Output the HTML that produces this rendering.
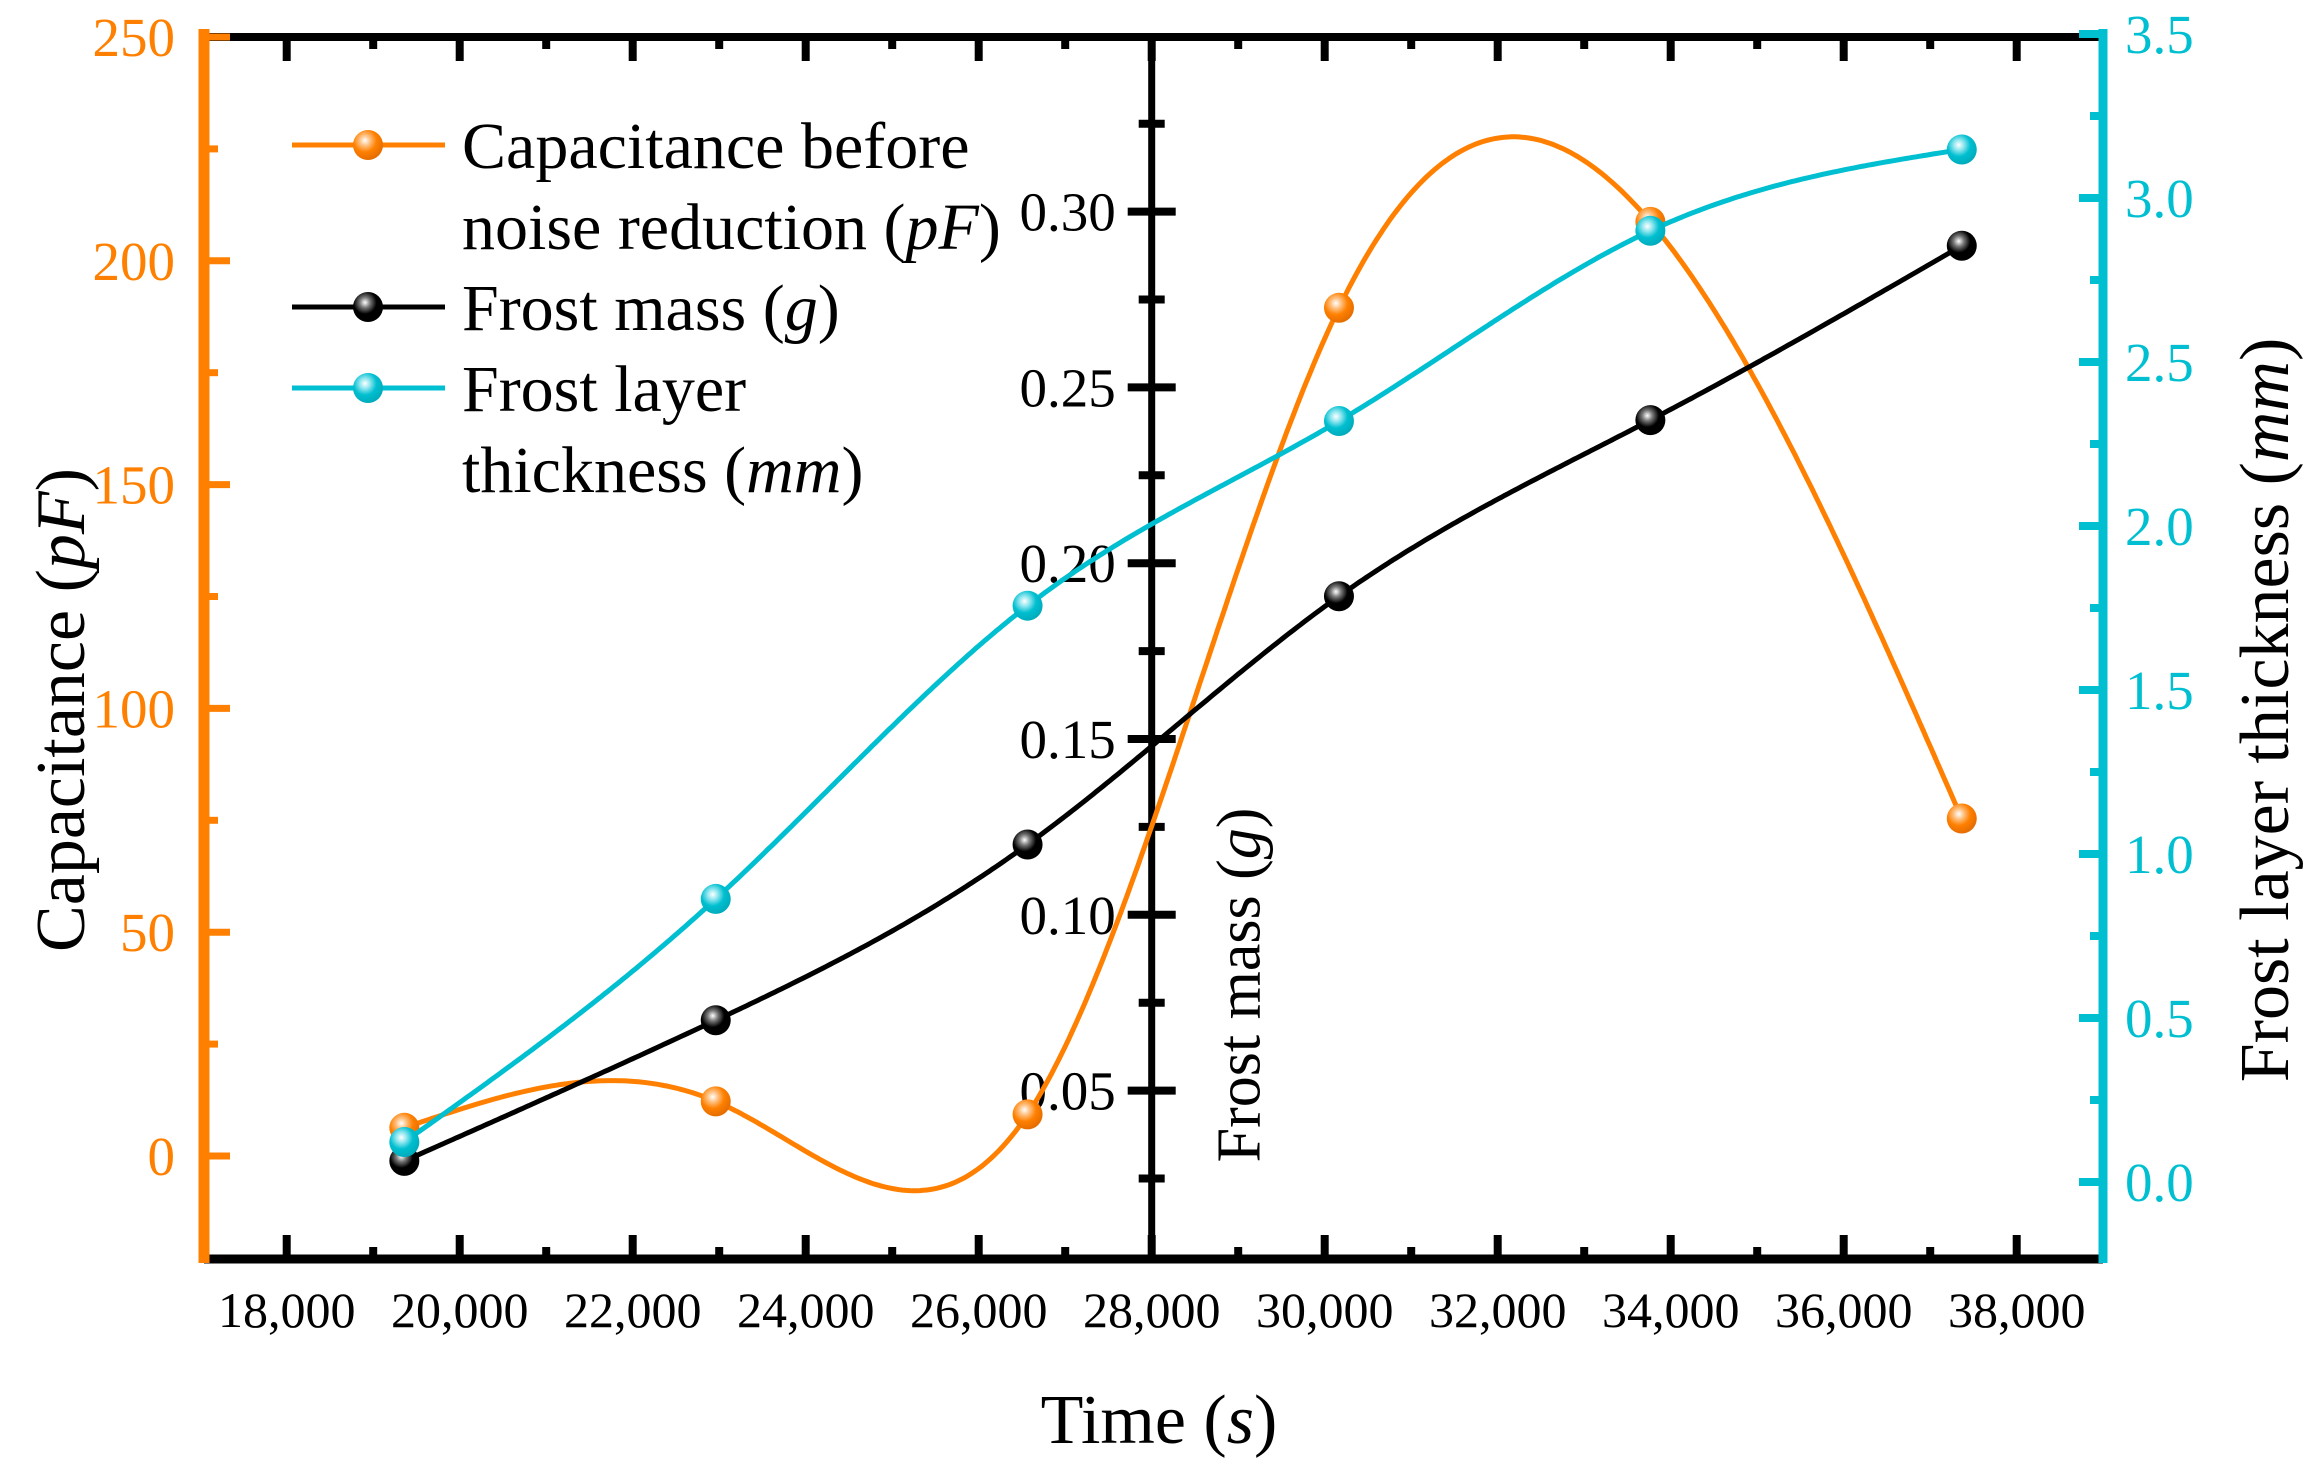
<!DOCTYPE html>
<html><head><meta charset="utf-8"><style>
html,body{margin:0;padding:0;background:#fff;}
svg{display:block;font-family:"Liberation Serif",serif;}
</style></head><body>
<svg id="chart" width="2306" height="1458" viewBox="0 0 2306 1458" xmlns="http://www.w3.org/2000/svg">
<defs>
<radialGradient id="gO" cx="0.4" cy="0.35" r="0.7"><stop offset="0" stop-color="#fff"/><stop offset="0.25" stop-color="#ffc080"/><stop offset="0.55" stop-color="#ff8000"/><stop offset="1" stop-color="#e06a00"/></radialGradient>
<radialGradient id="gK" cx="0.4" cy="0.35" r="0.7"><stop offset="0" stop-color="#fff"/><stop offset="0.25" stop-color="#777"/><stop offset="0.55" stop-color="#000"/><stop offset="1" stop-color="#000"/></radialGradient>
<radialGradient id="gC" cx="0.4" cy="0.35" r="0.7"><stop offset="0" stop-color="#fff"/><stop offset="0.25" stop-color="#8ee6ef"/><stop offset="0.55" stop-color="#00bfd0"/><stop offset="1" stop-color="#00a8b8"/></radialGradient>
</defs>
</svg>
<script>
const times = [19360, 22960, 26565, 30165, 33765, 37365];
const capacitance = [6.3, 12.2, 9.3, 189.5, 208.7, 75.4];
const frostMass = [0.030, 0.070, 0.120, 0.1906, 0.2407, 0.2903];
const thickness = [0.122, 0.863, 1.757, 2.32, 2.90, 3.148];
const xTicks = [18000,20000,22000,24000,26000,28000,30000,32000,34000,36000,38000];
const xTickLabels = ["18,000","20,000","22,000","24,000","26,000","28,000","30,000","32,000","34,000","36,000","38,000"];
const capTicks = [0,50,100,150,200,250];
const massTicks = [0.05,0.10,0.15,0.20,0.25,0.30];
const thickTicks = [0,0.5,1,1.5,2,2.5,3,3.5];

const NS="http://www.w3.org/2000/svg";
const svg=document.getElementById('chart');
const L=204,R=2103,T=37,B=1259;
const X=v=>286.7+(v-18000)/2000*173;
const MID=X(28000);
const YC=v=>1156-v/50*223.8;
const YM=v=>211.6+(0.30-v)/0.05*175.8;
const YT=v=>1182-v/0.5*164;
const ORANGE="#ff8000", CYAN="#00bfd0";
function el(tag,attrs,parent){const e=document.createElementNS(NS,tag);for(const k in attrs)e.setAttribute(k,attrs[k]);(parent||svg).appendChild(e);return e;}
function line(x1,y1,x2,y2,c,w,g){return el('line',{x1,y1,x2,y2,stroke:c,'stroke-width':w},g);}
function text(x,y,s,attrs,g){const t=el('text',Object.assign({x,y},attrs),g);t.textContent=s;return t;}

function spline(xs,ys){const n=xs.length;const h=[],a=[],l=[1],mu=[0],z=[0],c=new Array(n).fill(0),b=[],d=[];
for(let i=0;i<n-1;i++)h[i]=xs[i+1]-xs[i];
for(let i=1;i<n-1;i++)a[i]=3/h[i]*(ys[i+1]-ys[i])-3/h[i-1]*(ys[i]-ys[i-1]);
for(let i=1;i<n-1;i++){l[i]=2*(xs[i+1]-xs[i-1])-h[i-1]*mu[i-1];mu[i]=h[i]/l[i];z[i]=(a[i]-h[i-1]*z[i-1])/l[i];}
l[n-1]=1;z[n-1]=0;
for(let j=n-2;j>=0;j--){c[j]=z[j]-mu[j]*c[j+1];b[j]=(ys[j+1]-ys[j])/h[j]-h[j]*(c[j+1]+2*c[j])/3;d[j]=(c[j+1]-c[j])/(3*h[j]);}
return x=>{let j=0;while(j<n-2&&x>xs[j+1])j++;const dx=x-xs[j];return ys[j]+b[j]*dx+c[j]*dx*dx+d[j]*dx*dx*dx;};}

const frame=el('g',{});


line(L,T,R,T,'#000',8,frame);
line(L,B,R,B,'#000',9,frame);
line(L,T-8,L,B+4,ORANGE,11,frame);
line(R,T-8,R,B+4,CYAN,9,frame);
line(MID,T,MID,B,'#000',7,frame);

const xg=el('g',{});


xTicks.forEach((v,i)=>{const x=X(v);line(x,B,x,B-24,'#000',8,xg);line(x,T,x,T+24,'#000',8,xg);
 text(x,1327,xTickLabels[i],{'font-size':50,'text-anchor':'middle',fill:'#000'},xg);
 if(i<xTicks.length-1){const xm=X(v+1000);line(xm,B,xm,B-12,'#000',8,xg);line(xm,T,xm,T+12,'#000',8,xg);}});
const xt=text(1159,1443,'Time (',{'font-size':70,'text-anchor':'middle'},xg);


{const s=el('tspan',{'font-style':'italic'},xt);s.textContent='s';const s2=el('tspan',{},xt);s2.textContent=')';}

const lg=el('g',{});


capTicks.forEach(v=>{const y=YC(v);line(L,y,L+26,y,ORANGE,7,lg);text(175,y+19,String(v),{'font-size':55,'text-anchor':'end',fill:ORANGE},lg);
 const ym=YC(v+25);if(ym>T)line(L,ym,L+14,ym,ORANGE,7,lg);});
const lt=text(0,0,'Capacitance (',{'font-size':70,'text-anchor':'middle',transform:'translate(84,710) rotate(-90)'},lg);


{const s=el('tspan',{'font-style':'italic'},lt);s.textContent='pF';const s2=el('tspan',{},lt);s2.textContent=')';}

const mg=el('g',{});


massTicks.forEach(v=>{const y=YM(v);line(MID-24,y,MID+24,y,'#000',8,mg);text(MID-36,y+19,v.toFixed(2),{'font-size':55,'text-anchor':'end',fill:'#000'},mg);});
[0.025,0.075,0.125,0.175,0.225,0.275,0.325].forEach(v=>{const y=YM(v);line(MID-13,y,MID+13,y,'#000',8,mg);});
const mt=text(0,0,'Frost mass (',{'font-size':62,'text-anchor':'middle',transform:'translate('+(MID+108)+',985) rotate(-90)'},mg);


{const s=el('tspan',{'font-style':'italic'},mt);s.textContent='g';const s2=el('tspan',{},mt);s2.textContent=')';}

const rg=el('g',{});


thickTicks.forEach(v=>{const y=YT(v);line(R,y,R-24,y,CYAN,8,rg);text(2125,y+19,v.toFixed(1),{'font-size':55,'text-anchor':'start',fill:CYAN},rg);
 const ym=YT(v+0.25);if(ym>T)line(R,ym,R-13,ym,CYAN,8,rg);});
const rt=text(0,0,'Frost layer thickness (',{'font-size':70,'text-anchor':'middle',transform:'translate(2288,710) rotate(-90)'},rg);


{const s=el('tspan',{'font-style':'italic'},rt);s.textContent='mm';const s2=el('tspan',{},rt);s2.textContent=')';}

function series(name,vals,Y,color,grad){
 const g=el('g',{});
 
 
 const f=spline(times,vals);let d='';
 for(let x=times[0];x<=times[times.length-1];x+=40){d+=(d?'L':'M')+X(x).toFixed(1)+','+Y(f(x)).toFixed(1);}
 d+='L'+X(times[times.length-1]).toFixed(1)+','+Y(vals[vals.length-1]).toFixed(1);
 const p=el('path',{d,fill:'none',stroke:color,'stroke-width':5},g);
 
 
 vals.forEach((v,i)=>{const c=el('circle',{cx:X(times[i]),cy:Y(v),r:15,fill:'url(#'+grad+')'},g);
  
  });
}
series('capacitance',capacitance,YC,ORANGE,'gO');
series('frost-mass',frostMass,YM,'#000','gK');
series('thickness',thickness,YT,CYAN,'gC');

const lgd=el('g',{});


function entry(name,y,color,grad,lines){
 const g=el('g',{},lgd);
 
 
 line(292,y,445,y,color,5,g);el('circle',{cx:368,cy:y,r:15,fill:'url(#'+grad+')'},g);
 lines.forEach((ln,i)=>{const t=text(462,y+23+i*81,'',{'font-size':66},g);ln.forEach(([s,it])=>{const ts=el('tspan',it?{'font-style':'italic'}:{},t);ts.textContent=s;});});
}
entry('capacitance',145,ORANGE,'gO',[[['Capacitance before']],[['noise reduction ('],['pF',1],[')']]]);
entry('frost-mass',307,'#000','gK',[[['Frost mass ('],['g',1],[')']]]);
entry('thickness',388,CYAN,'gC',[[['Frost layer']],[['thickness ('],['mm',1],[')']]]);
</script>
</body></html>
